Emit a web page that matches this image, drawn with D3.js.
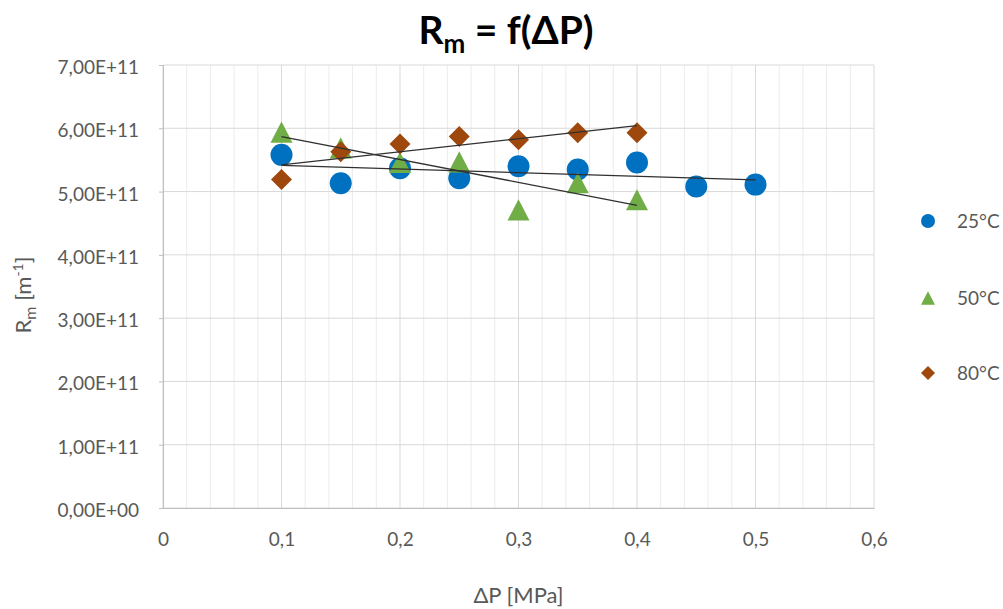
<!DOCTYPE html>
<html><head><meta charset="utf-8">
<script src="https://cdn.jsdelivr.net/npm/d3@7"></script>
<style>body{margin:0;background:#fff}svg{display:block}text{font-family:Lato,"Open Sans",sans-serif}</style>
</head><body>
<svg id="c" width="1003" height="609"></svg>
<script>
const x25 = [0.1,0.15,0.2,0.25,0.3,0.35,0.4,0.45,0.5];
const y25 = [5.58e11,5.13e11,5.37e11,5.21e11,5.40e11,5.35e11,5.46e11,5.08e11,5.11e11];
const x50 = [0.1,0.15,0.2,0.25,0.3,0.35,0.4];
const y50 = [5.94e11,5.69e11,5.46e11,5.47e11,4.71e11,5.14e11,4.87e11];
const x80 = [0.1,0.15,0.2,0.25,0.3,0.35,0.4];
const y80 = [5.19e11,5.63e11,5.75e11,5.87e11,5.82e11,5.93e11,5.93e11];
const seriesNames = ["25°C","50°C","80°C"];
const xTicks = [0,0.1,0.2,0.3,0.4,0.5,0.6];
const xTickLabels = ["0","0,1","0,2","0,3","0,4","0,5","0,6"];
const yTicks = [0,1e11,2e11,3e11,4e11,5e11,6e11,7e11];
const yTickLabels = ["0,00E+00","1,00E+11","2,00E+11","3,00E+11","4,00E+11","5,00E+11","6,00E+11","7,00E+11"];

const svg = d3.select("#c");
const L=163,R=874,T=65,B=508;
const x = d3.scaleLinear().domain([0,0.6]).range([L,R]);
const y = d3.scaleLinear().domain([0,7e11]).range([B,T]);

// custom marker shapes (Excel-like): w = width in px
const shapes = {
  circle: w => { const r=w/2; return `M${r},0A${r},${r} 0 1,1 ${-r},0A${r},${r} 0 1,1 ${r},0Z`; },
  triangle: w => { const h=w*0.96, a=w/2; return `M0,${-h/2}L${a},${h/2}L${-a},${h/2}Z`; },
  diamond: w => { const a=w/2; return `M0,${-a}L${a},0L0,${a}L${-a},0Z`; }
};

// minor vertical grid
const minor = d3.range(0,0.6001,0.02).filter(v=>Math.abs(v*10-Math.round(v*10))>1e-6);
svg.append("g").selectAll("line").data(minor).join("line")
  .attr("x1",d=>x(d)).attr("x2",d=>x(d)).attr("y1",T).attr("y2",B)
  .attr("stroke","#ececec").attr("stroke-width",1);
// major vertical grid
svg.append("g").selectAll("line").data(xTicks).join("line")
  .attr("x1",d=>x(d)).attr("x2",d=>x(d)).attr("y1",T).attr("y2",B)
  .attr("stroke","#d9d9d9").attr("stroke-width",1);
// major horizontal grid
svg.append("g").selectAll("line").data(yTicks).join("line")
  .attr("x1",L).attr("x2",R).attr("y1",d=>y(d)).attr("y2",d=>y(d))
  .attr("stroke","#d9d9d9").attr("stroke-width",1);

// axes
const yAxis = d3.axisLeft(y).tickValues(yTicks).tickFormat((d,i)=>yTickLabels[i]).tickSize(4).tickPadding(20);
const gy = svg.append("g").attr("transform",`translate(${L},0)`).call(yAxis);
gy.select(".domain").attr("stroke","#bfbfbf");
gy.selectAll(".tick line").attr("stroke","#bfbfbf");
gy.selectAll(".tick text").attr("fill","#595959").attr("dy","0.45em").style("font-size","19px").style("font-family","Lato,sans-serif");

const xAxis = d3.axisBottom(x).tickValues(xTicks).tickFormat((d,i)=>xTickLabels[i]).tickSize(0).tickPadding(25);
const gx = svg.append("g").attr("transform",`translate(0,${B})`).call(xAxis);
gx.select(".domain").attr("stroke","#bfbfbf");
gx.selectAll(".tick text").attr("fill","#595959").style("font-size","19px").style("font-family","Lato,sans-serif");

// trendlines (linear least squares)
function fit(xs,ys){
  const mx=d3.mean(xs), my=d3.mean(ys);
  let sxy=0,sxx=0; xs.forEach((v,i)=>{sxy+=(v-mx)*(ys[i]-my); sxx+=(v-mx)*(v-mx);});
  const b=sxy/sxx, a=my-b*mx;
  const x0=d3.min(xs), x1=d3.max(xs);
  return [[x0,a+b*x0],[x1,a+b*x1]];
}
const series = [
  {xs:x25, ys:y25, color:"#0070c0", shape:"circle", w:22, lw:14},
  {xs:x50, ys:y50, color:"#70ad47", shape:"triangle", w:22, lw:14},
  {xs:x80, ys:y80, color:"#9e480e", shape:"diamond", w:21, lw:14}
];
series.forEach(s=>{
  svg.append("g").selectAll("path").data(s.xs.map((v,i)=>[v,s.ys[i]])).join("path")
    .attr("transform",d=>`translate(${x(d[0])},${y(d[1])})`)
    .attr("d",shapes[s.shape](s.w))
    .attr("fill",s.color);
});
series.forEach(s=>{
  const f=fit(s.xs,s.ys);
  svg.append("line").attr("x1",x(f[0][0])).attr("y1",y(f[0][1])).attr("x2",x(f[1][0])).attr("y2",y(f[1][1]))
    .attr("stroke","#303030").attr("stroke-width",1.3);
});

// legend
const legY=[221,298,373];
series.forEach((s,i)=>{
  svg.append("path").attr("transform",`translate(928,${legY[i]})`)
    .attr("d",shapes[s.shape](s.lw)).attr("fill",s.color);
  svg.append("text").attr("x",957).attr("y",legY[i]).attr("dy","0.36em")
    .attr("fill","#595959").style("font-size","19px").text(seriesNames[i]);
});

// title
const title = svg.append("text").attr("x",506).attr("y",44).attr("text-anchor","middle")
  .attr("fill","#000").style("font-size","39px").style("font-weight","bold");
title.append("tspan").text("R");
title.append("tspan").attr("dy",9).style("font-size","26px").text("m");
title.append("tspan").attr("dy",-9).text(" = f(ΔP)");

// axis titles
svg.append("text").attr("x",(L+R)/2).attr("y",603).attr("text-anchor","middle")
  .attr("fill","#595959").style("font-size","22px").text("ΔP [MPa]");
const yt = svg.append("text").attr("transform","translate(31,295) rotate(-90)").attr("text-anchor","middle")
  .attr("fill","#595959").style("font-size","22px");
yt.append("tspan").text("R");
yt.append("tspan").attr("dy",5).style("font-size","16px").text("m");
yt.append("tspan").attr("dy",-5).text(" [m");
yt.append("tspan").attr("dy",-8).style("font-size","14px").text("-1");
yt.append("tspan").attr("dy",8).text("]");
</script>
</body></html>
